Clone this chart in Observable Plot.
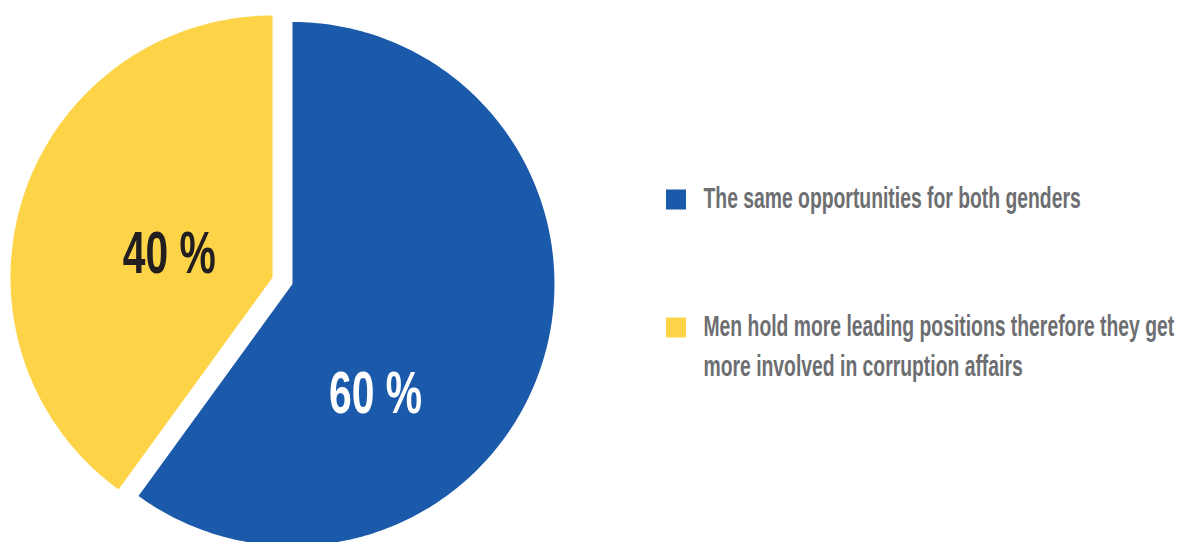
<!DOCTYPE html>
<html>
<head>
<meta charset="utf-8">
<script src="https://cdn.jsdelivr.net/npm/d3@7"></script>
<script src="https://cdn.jsdelivr.net/npm/@observablehq/plot@0.6"></script>
<style>
  html, body { margin: 0; padding: 0; background: #ffffff; }
  #chart svg { display: block; }
</style>
</head>
<body>
<div id="chart"></div>
<script>
// ---- data ----
const categories = [
  "The same opportunities for both genders",
  "Men hold more leading positions therefore they get more involved in corruption affairs"
];
const legendLines = [
  ["The same opportunities for both genders"],
  ["Men hold more leading positions therefore they get", "more involved in corruption affairs"]
];
const values = [60, 40];
const valueLabels = ["60 %", "40 %"];
const colors = ["#1b5aaa", "#fdd447"];
const labelColors = ["#ffffff", "#231f20"];

// ---- layout ----
const W = 1180, H = 542;
const cx = 272, cy = 277, R = 262;
const explode = [21, 0];
const labelPos = [{angle: 143, radius: 138}, {angle: 283, radius: 106}];
const legendX = 666, legendSq = 20, legendTextX = 703;
const legendY = [199.5, 327.5], lineStep = 40;
const fontFamily = '"Liberation Sans", Arial, sans-serif';
const squeezeLegend = 0.645, squeezeValue = 0.68;

const pie = d3.pie().sort(null).value(d => d)(values);
const poly = [];
const valueText = [];
pie.forEach((s, i) => {
  const mid = (s.startAngle + s.endAngle) / 2;
  const ox = cx + explode[i] * Math.sin(mid), oy = cy - explode[i] * Math.cos(mid);
  poly.push({slice: categories[i], x: ox, y: oy});
  const n = 240;
  for (let k = 0; k <= n; k++) {
    const a = s.startAngle + (s.endAngle - s.startAngle) * k / n;
    poly.push({slice: categories[i], x: ox + R * Math.sin(a), y: oy - R * Math.cos(a)});
  }
  poly.push({slice: categories[i], x: ox, y: oy});
  const la = labelPos[i].angle * Math.PI / 180;
  valueText.push({
    text: valueLabels[i], color: labelColors[i],
    x: ox + labelPos[i].radius * Math.sin(la),
    y: oy - labelPos[i].radius * Math.cos(la)
  });
});

const legendRects = categories.map((c, i) => ({
  category: c,
  x1: legendX, x2: legendX + legendSq,
  y1: legendY[i] - legendSq / 2, y2: legendY[i] + legendSq / 2
}));
const legendTexts = [];
legendLines.forEach((lines, i) => lines.forEach((t, j) => legendTexts.push({text: t, x: legendTextX, y: legendY[i] - 2 + j * lineStep})));

const svg = Plot.plot({
  width: W, height: H, margin: 0,
  style: {background: "#ffffff", fontFamily},
  x: {domain: [0, W], range: [0, W], axis: null},
  y: {domain: [0, H], range: [0, H], axis: null},
  color: {domain: categories, range: colors},
  marks: [
    Plot.line(poly, {x: "x", y: "y", z: "slice", fill: "slice", stroke: null, curve: "linear"}),
    ...valueText.map(v => Plot.text([v], {
      x: "x", y: "y", text: "text", fill: v.color, fontSize: 60, fontWeight: 700,
      fontFamily, textAnchor: "middle", lineAnchor: "middle"
    })),
    Plot.rect(legendRects, {x1: "x1", x2: "x2", y1: "y1", y2: "y2", fill: "category"}),
    Plot.text(legendTexts, {
      x: "x", y: "y", text: "text", fill: "#6d6e71", fontSize: 30, fontWeight: 700,
      fontFamily, textAnchor: "start", lineAnchor: "middle"
    })
  ]
});

// condense the type horizontally (the reference uses a condensed face)
const textGroups = svg.querySelectorAll('g[aria-label="text"]');
textGroups.forEach((g, gi) => {
  const k = gi < valueText.length ? squeezeValue : squeezeLegend;
  g.querySelectorAll("text").forEach(t => {
    const tr = t.getAttribute("transform") || "";
    t.setAttribute("transform", (tr + ` scale(${k},1)`).trim());
  });
});

document.getElementById("chart").appendChild(svg);
</script>
</body>
</html>
